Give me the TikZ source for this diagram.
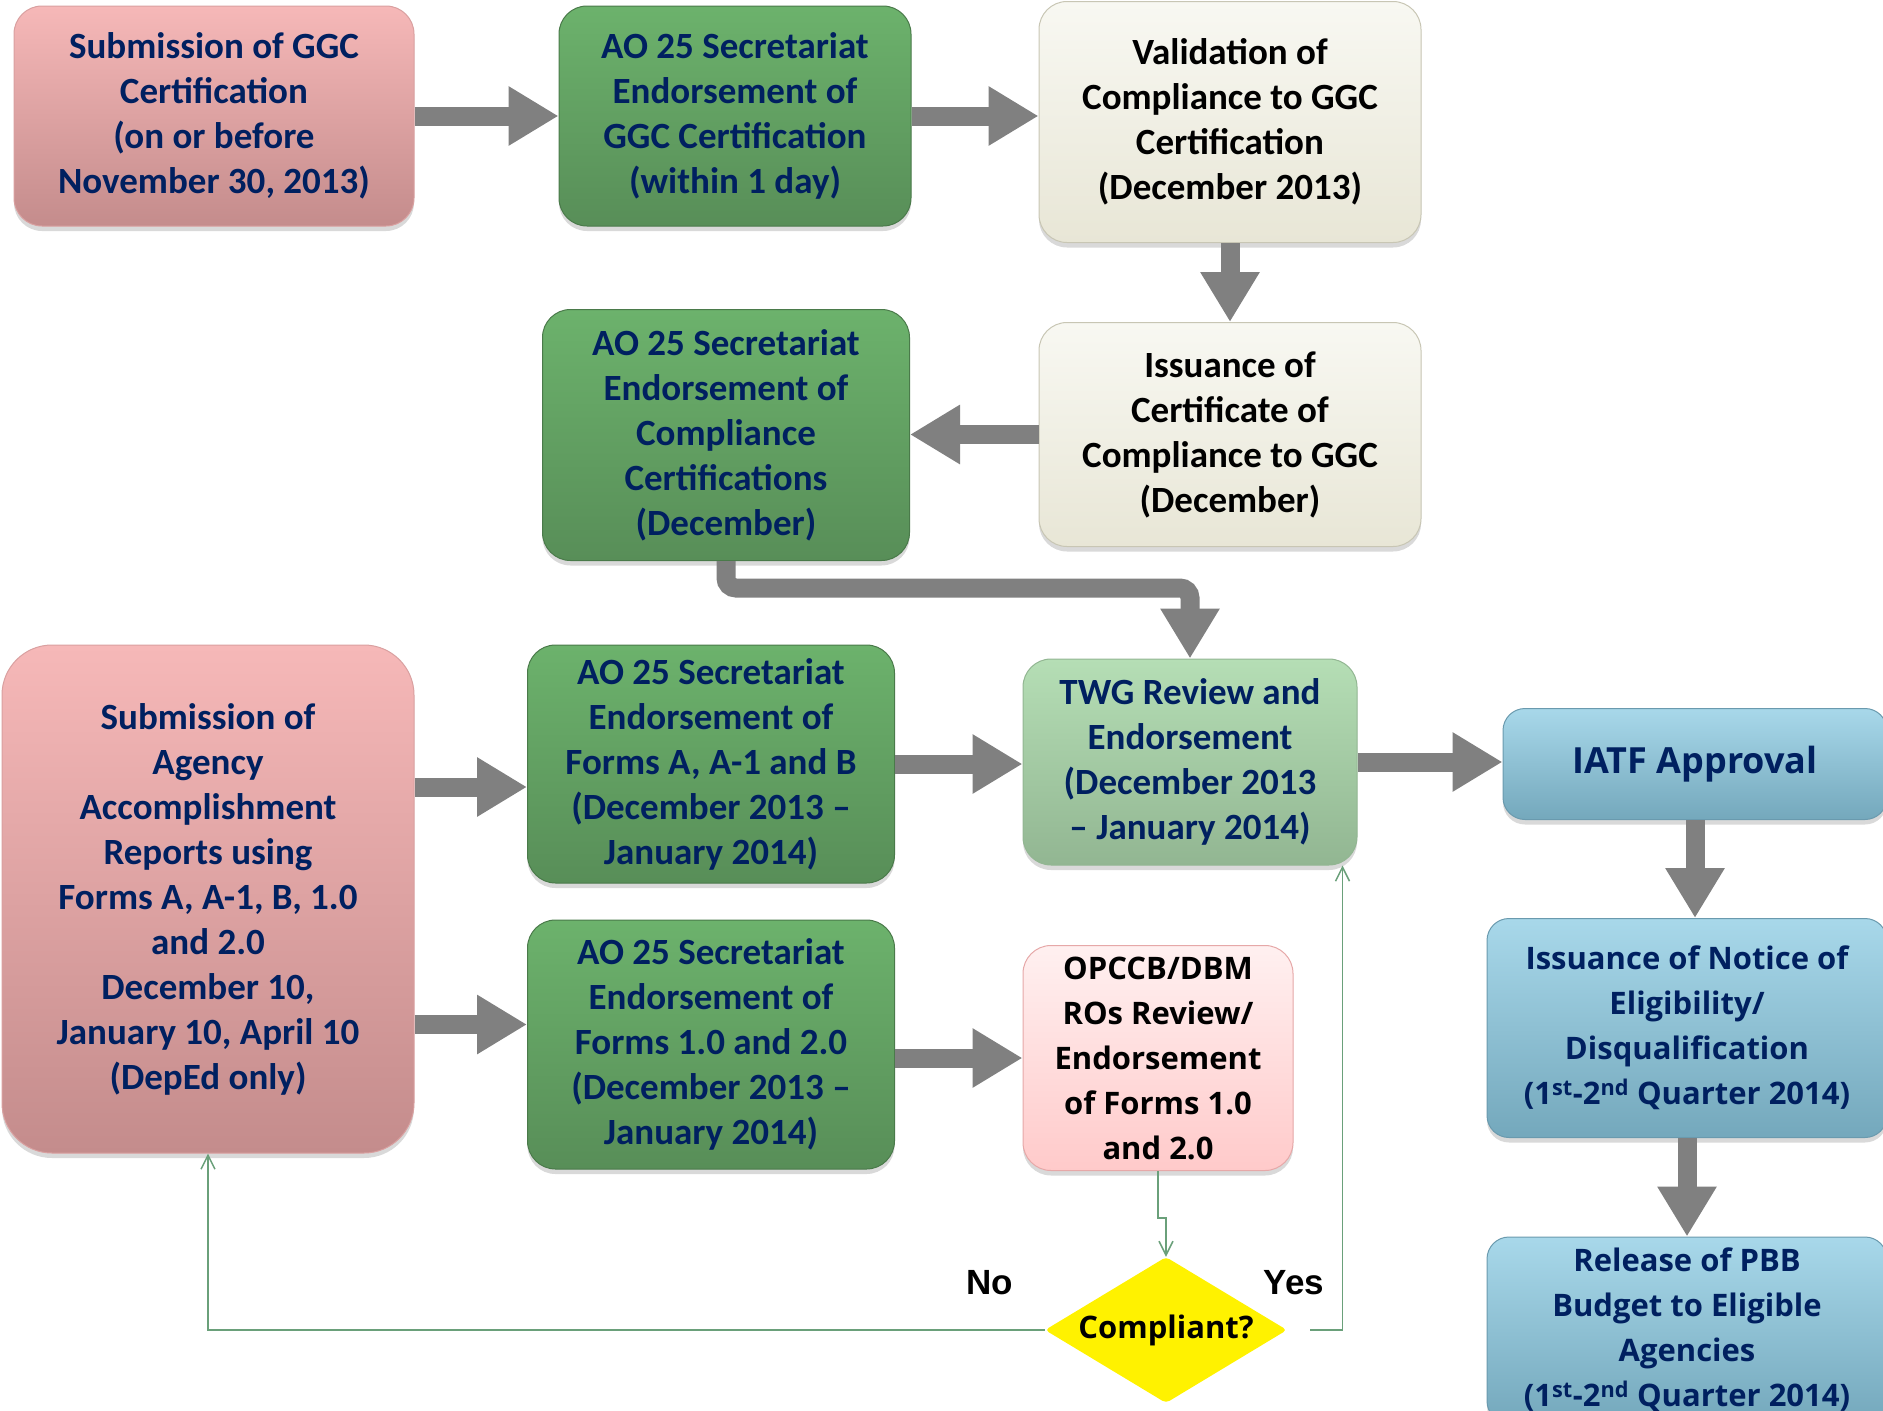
\documentclass[tikz,border=0pt]{standalone}
\usepackage{fontspec}
\setmainfont{Carlito}
\newfontfamily\opensans{Open Sans}
\newfontfamily\arialfont{Liberation Sans}
\usetikzlibrary{arrows.meta,positioning,shapes.geometric,shadows}
\definecolor{navy}{HTML}{002060}
\definecolor{pinktop}{HTML}{F6B8B8}
\definecolor{pinkbot}{HTML}{C48C8C}
\definecolor{pinkedge}{HTML}{D9A0A0}
\definecolor{greentop}{HTML}{6CB26C}
\definecolor{greenbot}{HTML}{588E58}
\definecolor{greenedge}{HTML}{4A7A4A}
\definecolor{creamtop}{HTML}{F8F8F2}
\definecolor{creambot}{HTML}{E8E6D6}
\definecolor{creamedge}{HTML}{C8C6B4}
\definecolor{twgtop}{HTML}{B5DEB5}
\definecolor{twgbot}{HTML}{92B692}
\definecolor{rosetop}{HTML}{FFF0F0}
\definecolor{rosebot}{HTML}{FFCACA}
\definecolor{roseedge}{HTML}{E6A8A8}
\definecolor{bluetop}{HTML}{A8D8EA}
\definecolor{bluebot}{HTML}{74A8BC}
\definecolor{blueedge}{HTML}{6A9AAE}
\definecolor{arrowgray}{HTML}{808080}
\definecolor{linegreen}{HTML}{6AA07A}
\newcommand\boxfont{\fontsize{37}{45}\selectfont\bfseries}
\newcommand\widefont{\opensans\fontsize{31}{45}\selectfont\bfseries}
\newcommand\answerfont{\arialfont\fontsize{35}{42}\selectfont\bfseries}

\begin{document}
\begin{tikzpicture}[x=1pt, y=-1pt,
    box/.style={rounded corners=28pt, line width=1pt, align=center, inner sep=4pt, font=\boxfont, text=navy, drop shadow={opacity=0.3, shadow xshift=0pt, shadow yshift=-5pt}},
    pinkbox/.style={box, draw=pinkedge, top color=pinktop, bottom color=pinkbot},
    greenbox/.style={box, draw=greenedge, top color=greentop, bottom color=greenbot},
    creambox/.style={box, draw=creamedge, top color=creamtop, bottom color=creambot, text=black},
    twgbox/.style={box, draw=twgbot, top color=twgtop, bottom color=twgbot},
    rosebox/.style={box, draw=roseedge, top color=rosetop, bottom color=rosebot, text=black, font=\widefont},
    bluebox/.style={box, rounded corners=22pt, draw=blueedge, top color=bluetop, bottom color=bluebot, font=\widefont},
    decision/.style={diamond, aspect=1.66, fill=yellow, rounded corners=4pt, minimum width=242pt, minimum height=146pt, inner sep=0pt, font=\widefont},
    answer/.style={font=\answerfont},
    bigarrow/.style={draw=arrowgray, line width=19pt, -{Triangle[width=56pt,length=50pt]}},
    thinarrow/.style={draw=linegreen, line width=1.5pt, -{Straight Barb[length=14pt,width=14pt]}}]
    \useasboundingbox (0,0) rectangle (1883,1411);
    \node[pinkbox, minimum width=400pt, minimum height=220pt] (subggc) at (214,116) {Submission of GGC\\Certification\\(on or before\\November 30, 2013)};
    \node[greenbox, minimum width=352pt, minimum height=220pt, right=144pt of subggc] (endggc) {AO 25 Secretariat\\Endorsement of\\GGC Certification\\(within 1 day)};
    \node[creambox, minimum width=382pt, minimum height=241pt] (valid) at (1230,122) {Validation of\\Compliance to GGC\\Certification\\(December 2013)};
    \node[creambox, minimum width=382pt, minimum height=224pt, below=79pt of valid] (issue) {Issuance of\\Certificate of\\Compliance to GGC\\(December)};
    \node[greenbox, minimum width=367pt, minimum height=251pt] (endcomp) at (726,435) {AO 25 Secretariat\\Endorsement of\\Compliance\\Certifications\\(December)};
    \node[pinkbox, rounded corners=50pt, minimum width=412pt, minimum height=508pt] (subagency) at (208,899) {Submission of\\Agency\\Accomplishment\\Reports using\\Forms A, A-1, B, 1.0\\and 2.0\\December 10,\\January 10, April 10\\(DepEd only)};
    \node[greenbox, minimum width=367pt, minimum height=238pt] (endab) at (711,764) {AO 25 Secretariat\\Endorsement of\\Forms A, A-1 and B\\(December 2013 –\\January 2014)};
    \node[greenbox, minimum width=367pt, minimum height=249pt, below=36pt of endab] (endforms) {AO 25 Secretariat\\Endorsement of\\Forms 1.0 and 2.0\\(December 2013 –\\January 2014)};
    \node[twgbox, minimum width=334pt, minimum height=206pt] (twg) at (1190,762) {TWG Review and\\Endorsement\\(December 2013\\– January 2014)};
    \node[rosebox, minimum width=270pt, minimum height=225pt] (opccb) at (1158,1058) {OPCCB/DBM\\ROs Review/\\Endorsement\\of Forms 1.0\\and 2.0};
    \node[decision] (comp) at (1166,1330) {Compliant?};
    \node[bluebox, minimum width=384pt, minimum height=111pt, font=\opensans\fontsize{36}{45}\selectfont\bfseries] (iatf) at (1695,764) {IATF Approval};
    \node[bluebox, minimum width=400pt, minimum height=219pt] (notice) at (1687,1028) {Issuance of Notice of\\Eligibility/\\Disqualification\\(1\textsuperscript{st}-2\textsuperscript{nd} Quarter 2014)};
    \node[bluebox, minimum width=400pt, minimum height=186pt] (release) at (1687,1330) {Release of PBB\\Budget to Eligible\\Agencies\\(1\textsuperscript{st}-2\textsuperscript{nd} Quarter 2014)};
    \node[answer] (no) at (990,1283) {No};
    \node[answer] (yes) at (1294,1283) {Yes};
    \draw[bigarrow] (subggc) -- (endggc);
    \draw[bigarrow] (endggc) -- (endggc -| valid.west);
    \draw[bigarrow] (valid) -- (issue);
    \draw[bigarrow] (issue) -- (issue -| endcomp.east);
    \draw[bigarrow, rounded corners=10pt] (endcomp.south) -- ++(0,27) -| (twg.north);
    \draw[bigarrow] ([yshift=-23pt]endab.west -| subagency.east) -- ([yshift=-23pt]endab.west);
    \draw[bigarrow] ([yshift=20pt]endforms.west -| subagency.east) -- ([yshift=20pt]endforms.west);
    \draw[bigarrow] (endab) -- (endab -| twg.west);
    \draw[bigarrow] (endforms.east |- opccb) -- (opccb);
    \draw[bigarrow] (twg) -- (twg -| iatf.west);
    \draw[bigarrow] (iatf.south) -- (iatf.south |- notice.north);
    \draw[bigarrow] (notice.south) -- (release.north);
    \draw[thinarrow] (opccb.south) -- ++(0,47) -| (comp.north);
    \draw[thinarrow] (comp.west) -| (subagency.south);
    \draw[thinarrow] ([xshift=23pt]comp.east) -| ([xshift=-15pt]twg.south east);
\end{tikzpicture}
\end{document}
